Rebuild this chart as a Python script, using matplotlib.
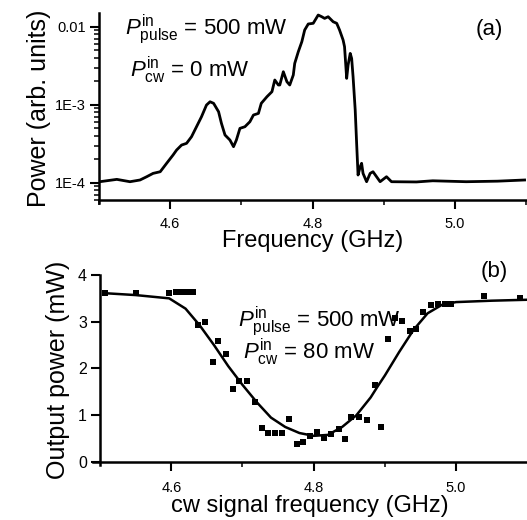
import matplotlib
matplotlib.use("Agg")
import matplotlib.pyplot as plt
from matplotlib.ticker import FixedLocator, FixedFormatter, LogLocator, NullFormatter, MultipleLocator

plt.rcParams['font.family'] = ['Liberation Sans', 'DejaVu Sans']
plt.rcParams['mathtext.fontset'] = 'custom'
plt.rcParams['mathtext.rm'] = 'Liberation Sans'
plt.rcParams['mathtext.it'] = 'Liberation Sans:italic'

# ---- panel (a): spectrum ----
spec_freq = [4.501, 4.525, 4.5435, 4.5576, 4.567, 4.576, 4.586, 4.595, 4.604, 4.609,
             4.616, 4.623, 4.630, 4.637, 4.644, 4.651, 4.656, 4.661, 4.668, 4.672,
             4.677, 4.684, 4.689, 4.693, 4.698, 4.705, 4.712, 4.717, 4.724, 4.728,
             4.736, 4.743, 4.747, 4.752, 4.754, 4.759, 4.764, 4.768, 4.773, 4.775,
             4.780, 4.785, 4.789, 4.794, 4.801, 4.808, 4.813, 4.817, 4.822, 4.829,
             4.834, 4.838, 4.843, 4.845, 4.848, 4.850, 4.853, 4.855, 4.857, 4.860,
             4.862, 4.864, 4.867, 4.869, 4.871, 4.876, 4.881, 4.885, 4.890, 4.895,
             4.904, 4.911, 4.946, 4.969, 5.016, 5.060, 5.098]
spec_logp = [-3.987, -3.957, -3.987, -3.965, -3.923, -3.880, -3.859, -3.751, -3.645, -3.581,
             -3.517, -3.495, -3.410, -3.282, -3.154, -3.004, -2.962, -2.982, -3.090, -3.238,
             -3.388, -3.453, -3.538, -3.453, -3.303, -3.282, -3.218, -3.132, -3.111, -2.982,
             -2.897, -2.833, -2.683, -2.747, -2.747, -2.577, -2.705, -2.747, -2.619, -2.470,
             -2.321, -2.192, -2.042, -1.965, -1.956, -1.850, -1.872, -1.893, -1.872, -1.936,
             -1.956, -2.042, -2.171, -2.256, -2.662, -2.491, -2.342, -2.406, -2.641, -3.068,
             -3.495, -3.901, -3.795, -3.751, -3.880, -3.987, -3.880, -3.859, -3.923, -3.987,
             -3.923, -3.987, -3.990, -3.975, -3.987, -3.980, -3.965]
spec_power = [10 ** v for v in spec_logp]

a_yticks = [1e-4, 1e-3, 1e-2]
a_yticklabels = ["1E-4", "1E-3", "0.01"]
x_major = [4.6, 4.8, 5.0]
x_labels = ["4.6", "4.8", "5.0"]

# ---- panel (b): output power vs cw frequency ----
pts_freq = [4.507, 4.550, 4.597, 4.606, 4.614, 4.622, 4.630, 4.637, 4.648, 4.658,
            4.666, 4.677, 4.687, 4.695, 4.706, 4.717, 4.727, 4.736, 4.746, 4.755,
            4.766, 4.776, 4.785, 4.795, 4.805, 4.815, 4.825, 4.835, 4.844, 4.853,
            4.864, 4.875, 4.886, 4.895, 4.904, 4.914, 4.924, 4.935, 4.944, 4.954,
            4.965, 4.975, 4.984, 4.993, 5.039, 5.090]
pts_power = [3.61, 3.61, 3.61, 3.63, 3.64, 3.64, 3.64, 2.94, 2.99, 2.13,
             2.58, 2.32, 1.56, 1.74, 1.74, 1.28, 0.72, 0.63, 0.63, 0.61,
             0.93, 0.38, 0.42, 0.55, 0.65, 0.52, 0.60, 0.70, 0.50, 0.97,
             0.97, 0.90, 1.64, 0.75, 2.63, 3.07, 3.02, 2.81, 2.84, 3.21,
             3.35, 3.39, 3.39, 3.37, 3.55, 3.50]

fit_freq = [4.507, 4.55, 4.597, 4.62, 4.64, 4.66, 4.68, 4.70, 4.72, 4.74,
            4.76, 4.78, 4.80, 4.82, 4.84, 4.86, 4.88, 4.89, 4.90, 4.92,
            4.94, 4.96, 4.98, 5.00, 5.05, 5.10]
fit_power = [3.61, 3.57, 3.50, 3.28, 2.92, 2.50, 2.05, 1.65, 1.28, 0.95,
             0.75, 0.62, 0.56, 0.58, 0.75, 1.00, 1.38, 1.62, 1.85, 2.35,
             2.82, 3.18, 3.36, 3.42, 3.45, 3.47]
b_yticks = [0, 1, 2, 3, 4]

fig = plt.figure(figsize=(5.27, 5.2), dpi=100)

# top axes
axa = fig.add_axes([0.1879, 0.6096, 0.8102, 0.3654])
axa.plot(spec_freq, spec_power, color='black', lw=2.0)
axa.set_yscale('log')
axa.set_xlim(4.5, 5.1)
axa.set_ylim(10 ** -4.26, 10 ** -1.824)
axa.spines['top'].set_visible(False)
axa.spines['right'].set_visible(False)
axa.spines['bottom'].set_position(('data', 10 ** -4.222))
for s in ('left', 'bottom'):
    axa.spines[s].set_linewidth(1.8)
axa.yaxis.set_major_locator(FixedLocator(a_yticks))
axa.yaxis.set_major_formatter(FixedFormatter(a_yticklabels))
axa.yaxis.set_minor_locator(LogLocator(base=10, subs=[2, 3, 4, 5, 6, 7, 8, 9]))
axa.yaxis.set_minor_formatter(NullFormatter())
axa.xaxis.set_major_locator(FixedLocator(x_major))
axa.xaxis.set_major_formatter(FixedFormatter(x_labels))
axa.xaxis.set_minor_locator(MultipleLocator(0.1))
axa.tick_params(which='major', direction='out', length=6.5, width=1.5, labelsize=10.5, pad=3)
axa.tick_params(axis='x', which='major', pad=6)
axa.tick_params(which='minor', direction='out', length=3.5, width=1.1)
axa.set_xlabel("Frequency (GHz)", fontsize=17, labelpad=-1)
axa.set_ylabel("Power (arb. units)", fontsize=18, labelpad=3)
axa.text(0.06, 0.915, r"$P^{\mathrm{in}}_{\mathrm{pulse}}$ = 500 mW", transform=axa.transAxes,
         fontsize=16, va='center', ha='left')
axa.text(0.072, 0.70, r"$P^{\mathrm{in}}_{\mathrm{cw}}$ = 0 mW", transform=axa.transAxes,
         fontsize=16, va='center', ha='left')
axa.text(0.915, 0.915, "(a)", transform=axa.transAxes, fontsize=16, va='center', ha='center')

# bottom axes
axb = fig.add_axes([0.1765, 0.1052, 0.8239, 0.366])
axb.plot(fit_freq, fit_power, color='black', lw=1.8)
axb.plot(pts_freq, pts_power, 's', color='black', markersize=3.8, markeredgewidth=0)
axb.set_xlim(4.49, 5.1)
axb.set_ylim(-0.07, 4.0)
axb.spines['top'].set_visible(False)
axb.spines['right'].set_visible(False)
axb.spines['bottom'].set_position(('data', 0))
axb.spines['left'].set_position(('data', 4.5))
for s in ('left', 'bottom'):
    axb.spines[s].set_linewidth(1.8)
axb.yaxis.set_major_locator(FixedLocator(b_yticks))
axb.xaxis.set_major_locator(FixedLocator(x_major))
axb.xaxis.set_major_formatter(FixedFormatter(x_labels))
axb.xaxis.set_minor_locator(FixedLocator([4.7, 4.9]))
axb.tick_params(which='major', direction='out', length=6.5, width=1.5, labelsize=10.5, pad=3)
axb.tick_params(axis='x', which='major', pad=7)
axb.tick_params(which='minor', direction='out', length=3.5, width=1.1)
axb.tick_params(axis='y', labelsize=11.5)
axb.set_xlabel("cw signal frequency (GHz)", fontsize=17, labelpad=0)
axb.set_ylabel("Output power (mW)", fontsize=18, labelpad=6)
axb.text(0.335, 0.755, r"$P^{\mathrm{in}}_{\mathrm{pulse}}$ = 500 mW", transform=axb.transAxes,
         fontsize=16, va='center', ha='left')
axb.text(0.345, 0.595, r"$P^{\mathrm{in}}_{\mathrm{cw}}$ = 80 mW", transform=axb.transAxes,
         fontsize=16, va='center', ha='left')
axb.text(0.925, 1.02, "(b)", transform=axb.transAxes, fontsize=16, va='center', ha='center')

fig.savefig("out.png", dpi=100)
